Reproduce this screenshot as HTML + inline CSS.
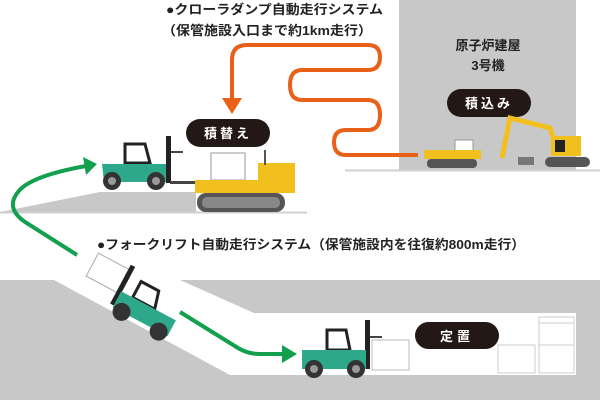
<!DOCTYPE html>
<html><head><meta charset="utf-8"><style>
body{margin:0;background:#fff}
svg{display:block}
text{font-family:"Liberation Sans","Noto Sans CJK JP",sans-serif}
</style></head><body>
<svg width="600" height="400" viewBox="0 0 600 400" xmlns="http://www.w3.org/2000/svg">
<rect x="399" y="0" width="177" height="170" fill="#c8c8c8"/>
<line x1="345" y1="170.5" x2="600" y2="170.5" stroke="#d0d0d0" stroke-width="2"/>
<polygon points="0,212 100,192 196,192 196,212" fill="#c8c8c8"/>
<line x1="0" y1="212.5" x2="307" y2="212.5" stroke="#d0d0d0" stroke-width="2"/>
<path d="M0,280 H600 V400 H0 Z M54,280 L230,375 H576 V313 H254 L180,280 Z" fill="#c8c8c8" fill-rule="evenodd"/>
<text x="166" y="14" font-size="13" font-weight="bold" fill="#222" textLength="217" lengthAdjust="spacingAndGlyphs">●クローラダンプ自動走行システム</text>
<text x="162" y="35" font-size="13" font-weight="bold" fill="#222" textLength="210" lengthAdjust="spacingAndGlyphs">（保管施設入口まで約1km走行）</text>
<text x="97" y="249" font-size="13" font-weight="bold" fill="#222" textLength="428" lengthAdjust="spacingAndGlyphs">●フォークリフト自動走行システム（保管施設内を往復約800m走行）</text>
<text x="488" y="50" font-size="13" font-weight="bold" fill="#222" text-anchor="middle">原子炉建屋</text>
<text x="488" y="70" font-size="13" font-weight="bold" fill="#222" text-anchor="middle">3号機</text>
<path d="M232,102 V60 Q232,45 247,45 H368 Q380,45 380,57 Q380,70 368,70 H302 Q290,70 290,85 Q290,100 302,100 H368 Q380,100 380,115 Q380,130 368,130 H346 Q334,130 334,142 Q334,155 346,155 H418" fill="none" stroke="#e8601a" stroke-width="4"/>
<polygon points="222,98 242,98 232,114" fill="#e8601a"/>
<path d="M77,255 L25,222 Q5,208 18,192 Q30,176 86,166" fill="none" stroke="#12a04e" stroke-width="4"/>
<polygon points="83,157 97,164 86,175" fill="#12a04e"/>
<path d="M180,312 L238,348 Q248,354 260,354 H284" fill="none" stroke="#12a04e" stroke-width="4"/>
<polygon points="282,345 297,354 282,363" fill="#12a04e"/>
<rect x="186" y="119" width="84" height="28" rx="14" fill="#231815"/>
<text x="228" y="138" font-size="13" font-weight="bold" fill="#fff" text-anchor="middle" letter-spacing="3">積替え</text>
<rect x="447" y="89" width="84" height="28" rx="14" fill="#231815"/>
<text x="489" y="108" font-size="13" font-weight="bold" fill="#fff" text-anchor="middle" letter-spacing="3">積込み</text>
<rect x="415" y="322" width="84" height="27" rx="13.5" fill="#231815"/>
<text x="457" y="341" font-size="13" font-weight="bold" fill="#fff" text-anchor="middle" letter-spacing="4">定置</text>
<g>
<rect x="166" y="136" width="5" height="47" fill="#222"/>
<rect x="171" y="151" width="12" height="2" fill="#444"/>
<rect x="170" y="181" width="26" height="3" fill="#444"/>
<path d="M125,144 H145 L150,163 H125 Z" fill="none" stroke="#222" stroke-width="3"/>
<path d="M102,164 H166 V182 H104 Z" fill="#2ea88a"/>
<circle cx="112" cy="181" r="9" fill="#333"/><circle cx="112" cy="181" r="4" fill="#999"/>
<circle cx="156" cy="181" r="9" fill="#333"/><circle cx="156" cy="181" r="4" fill="#999"/>
</g>
<g>
<rect x="211" y="153" width="34" height="27" fill="#fff" stroke="#999"/>
<rect x="195" y="180" width="72" height="13" fill="#f2c01e"/>
<rect x="258" y="163" width="37" height="30" fill="#f2c01e"/>
<line x1="265" y1="150" x2="265" y2="165" stroke="#555" stroke-width="2"/>
<rect x="197" y="193" width="88" height="19" rx="9" fill="#555"/>
<rect x="202" y="197" width="78" height="11" rx="5" fill="#888"/>
</g>
<g>
<rect x="455" y="140" width="18" height="12" fill="#fff" stroke="#999"/>
<rect x="424" y="150" width="57" height="9" fill="#f2c01e"/>
<rect x="427" y="159" width="50" height="9" rx="4" fill="#555"/>
</g>
<g>
<path d="M502,158 L510,118 L550,128 L554,140" fill="none" stroke="#f2c01e" stroke-width="5"/>
<rect x="551" y="136" width="30" height="20" fill="#f2c01e"/>
<rect x="555" y="140" width="10" height="12" fill="#222"/>
<rect x="545" y="157" width="45" height="10" rx="5" fill="#555"/>
<rect x="518" y="157" width="16" height="8" fill="#777"/>
</g>
<g transform="translate(2,18) rotate(28 125 290)">
<rect x="74" y="255" width="36" height="26" fill="#fff" stroke="#aaa"/>
<rect x="108" y="250" width="5" height="44" fill="#222"/>
<path d="M125,260 H145 L150,278 H125 Z" fill="none" stroke="#222" stroke-width="3"/>
<rect x="112" y="278" width="62" height="18" fill="#2ea88a"/>
<circle cx="122" cy="296" r="9" fill="#333"/><circle cx="164" cy="296" r="9" fill="#333"/>
</g>
<g>
<rect x="372" y="340" width="37" height="30" fill="#fff" stroke="#bbb"/>
<rect x="365" y="320" width="5" height="49" fill="#222"/>
<rect x="370" y="336" width="12" height="2" fill="#444"/>
<path d="M327,330 H346 L350,350 H327 Z" fill="none" stroke="#222" stroke-width="3"/>
<rect x="302" y="350" width="64" height="19" fill="#2ea88a"/>
<circle cx="314" cy="369" r="9" fill="#333"/><circle cx="314" cy="369" r="4" fill="#999"/>
<circle cx="356" cy="369" r="9" fill="#333"/><circle cx="356" cy="369" r="4" fill="#999"/>
</g>
<g fill="none" stroke="#ccc">
<rect x="498" y="345" width="37" height="28"/>
<rect x="539" y="317" width="35" height="56"/>
<line x1="539" y1="323" x2="574" y2="323"/>
<line x1="539" y1="345" x2="574" y2="345"/>
</g>
</svg>
</body></html>
